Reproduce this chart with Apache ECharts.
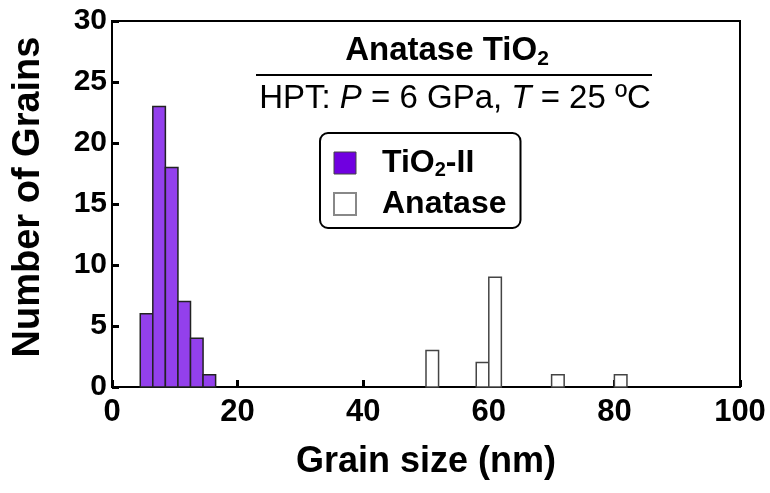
<!DOCTYPE html>
<html><head><meta charset="utf-8">
<script src="https://cdn.jsdelivr.net/npm/echarts@6/dist/echarts.min.js"></script>
<style>html,body{margin:0;padding:0;background:#fff}#c{width:770px;height:493px}</style>
</head><body><div id="c"></div>
<script>
// ---- data ----
const tio2BinStart = [4.5, 6.5, 8.5, 10.5, 12.5, 14.5];
const tio2BinEnd   = [6.5, 8.5, 10.5, 12.5, 14.5, 16.5];
const tio2Count    = [6, 23, 18, 7, 4, 1];
const anaBinStart  = [50, 58, 60, 70, 80];
const anaBinEnd    = [52, 60, 62, 72, 82];
const anaCount     = [3, 2, 9, 1, 1];
const xTicks = [0, 20, 40, 60, 80, 100];
const yTicks = [0, 5, 10, 15, 20, 25, 30];

const FONT = '"Liberation Sans", Arial, sans-serif';

function rows(s, e, c) { return s.map((v, i) => [v, e[i], c[i]]); }
function makeRender(fill, stroke) {
  return function (params, api) {
    const p0 = api.coord([api.value(0), api.value(2)]);
    const p1 = api.coord([api.value(1), 0]);
    return {
      type: 'rect',
      shape: { x: p0[0], y: p0[1], width: p1[0] - p0[0], height: p1[1] - p0[1] },
      style: { fill: fill, stroke: stroke, lineWidth: 1.5 }
    };
  };
}

const chart = echarts.init(document.getElementById('c'), null, { renderer: 'canvas' });
chart.setOption({
  animation: false,
  backgroundColor: '#fff',
  grid: { left: 112, right: 30, top: 21, bottom: 106, show: true, borderColor: '#000', borderWidth: 2, backgroundColor: 'transparent' },
  xAxis: {
    type: 'value', min: xTicks[0], max: xTicks[xTicks.length - 1], interval: 20,
    splitLine: { show: false },
    axisLine: { show: true, lineStyle: { color: '#000', width: 2 } },
    axisTick: { show: true, inside: true, length: 7, lineStyle: { color: '#000', width: 3 } },
    axisLabel: { color: '#000', fontSize: 31, fontWeight: 'bold', fontFamily: FONT, margin: 10 }
  },
  yAxis: {
    type: 'value', min: yTicks[0], max: yTicks[yTicks.length - 1], interval: 5,
    splitLine: { show: false },
    axisLine: { show: true, lineStyle: { color: '#000', width: 2 } },
    axisTick: { show: true, inside: true, length: 7, lineStyle: { color: '#000', width: 3 } },
    axisLabel: { color: '#000', fontSize: 30, fontWeight: 'bold', fontFamily: FONT, margin: 5 }
  },
  legend: {
    orient: 'vertical', left: 320, top: 133,
    padding: [14, 14, 8, 13],
    borderColor: '#000', borderWidth: 2, borderRadius: 8,
    itemWidth: 22, itemHeight: 22, itemGap: 8,
    data: [
      { name: 'TiO2-II', icon: 'rect', itemStyle: { color: '#7000e0', borderColor: '#444', borderWidth: 1 } },
      { name: 'Anatase', icon: 'rect', itemStyle: { color: '#fff', borderColor: '#888', borderWidth: 2 } }
    ],
    formatter: function (n) { return n === 'TiO2-II' ? 'TiO{sub|2}-II' : n; },
    textStyle: {
      color: '#000', fontSize: 32, fontWeight: 'bold', fontFamily: FONT, padding: [0, 0, 0, 21], lineHeight: 30,
      rich: { sub: { fontSize: 20, fontWeight: 'bold', fontFamily: FONT, color: '#000', padding: [14, 0, 0, 0] } }
    }
  },
  graphic: [
    { type: 'text', x: 447, y: 51,
      style: { text: 'Anatase TiO{sub|2}', fill: '#000', font: 'bold 33px ' + FONT, align: 'center', verticalAlign: 'middle',
        rich: { sub: { fontSize: 21, fontWeight: 'bold', fontFamily: FONT, fill: '#000', padding: [16, 0, 0, 0] } } } },
    { type: 'line', shape: { x1: 256, y1: 75, x2: 652, y2: 75 }, style: { stroke: '#000', lineWidth: 2 } },
    { type: 'text', x: 455, y: 99,
      style: { text: 'HPT: {i|P} = 6 GPa, {i|T} = 25 ºC', fill: '#000', font: '33px ' + FONT, align: 'center', verticalAlign: 'middle',
        rich: { i: { fontStyle: 'italic', fontSize: 33, fontFamily: FONT, fill: '#000' } } } },
    { type: 'text', x: 426, y: 462,
      style: { text: 'Grain size (nm)', fill: '#000', font: 'bold 36px ' + FONT, align: 'center', verticalAlign: 'middle' } },
    { type: 'text', x: 29, y: 197, rotation: Math.PI / 2,
      style: { text: 'Number of Grains', fill: '#000', font: 'bold 38px ' + FONT, align: 'center', verticalAlign: 'middle' } }
  ],
  series: [
    { name: 'TiO2-II', type: 'custom', itemStyle: { color: '#9340ec' }, encode: { x: [0, 1], y: 2 },
      renderItem: makeRender('#9340ec', '#222'), data: rows(tio2BinStart, tio2BinEnd, tio2Count), z: 1 },
    { name: 'Anatase', type: 'custom', itemStyle: { color: '#fff' }, encode: { x: [0, 1], y: 2 },
      renderItem: makeRender('#fff', '#444'), data: rows(anaBinStart, anaBinEnd, anaCount), z: 1 }
  ]
});
</script></body></html>
